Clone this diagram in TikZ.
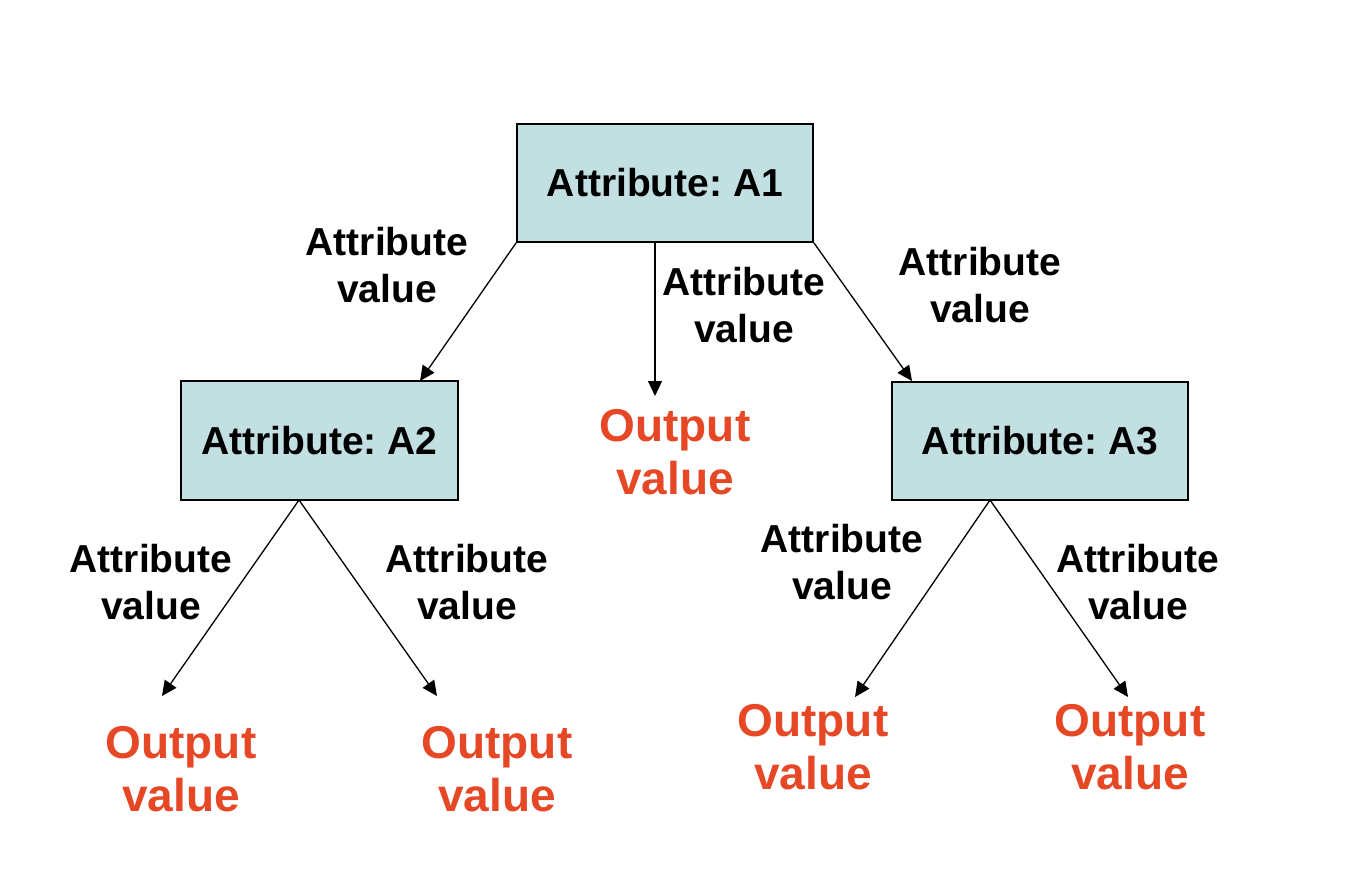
\documentclass[tikz,border=0pt]{standalone}
\usepackage{fontspec}
\setmainfont{Liberation Sans}
\frenchspacing
\usetikzlibrary{arrows.meta}
\definecolor{boxfill}{RGB}{194,224,226}
\definecolor{outred}{RGB}{230,72,38}
\tikzset{
  attrbox/.style={draw=black, line width=2pt, fill=boxfill, minimum width=296pt, minimum height=118pt, inner sep=0pt, font=\fontsize{39}{47}\selectfont\bfseries},
  lbl/.style={align=center, inner sep=0pt, font=\fontsize{39}{47}\selectfont\bfseries},
  outv/.style={align=center, inner sep=0pt, text=outred, font=\fontsize{46}{53}\selectfont\bfseries},
  conn/.style={line width=1.3pt, -{Triangle[length=15pt,width=14pt]}}
}
\begin{document}
\begin{tikzpicture}[x=1pt,y=-1pt]
\useasboundingbox (0,0) rectangle (1356,880);
\node[attrbox] (A1) at (665,183) {Attribute: A1};
\node[attrbox, minimum width=277pt, minimum height=119pt] (A2) at (319.5,440.5) {Attribute: A2};
\node[attrbox] (A3) at (1040,440.5) {Attribute: A3};

\node[outv] (O0) at (675,452) {Output\\value};
\node[outv] (O1) at (181,769) {Output\\value};
\node[outv] (O2) at (497,769) {Output\\value};
\node[outv] (O3) at (813,747) {Output\\value};
\node[outv] (O4) at (1130,747) {Output\\value};

\node[lbl] (L1) at (387,265) {Attribute\\value};
\node[lbl] (L2) at (744,305) {Attribute\\value};
\node[lbl] (L3) at (980,285) {Attribute\\value};
\node[lbl] (L4) at (151,582) {Attribute\\value};
\node[lbl] (L5) at (467,582) {Attribute\\value};
\node[lbl] (L6) at (842,562) {Attribute\\value};
\node[lbl] (L7) at (1138,582) {Attribute\\value};

\coordinate (s0) at (655,242);
\coordinate (e1) at (420,381);
\coordinate (e0) at (655,396);
\coordinate (e3) at (912,381);
\coordinate (s2) at (299,500);
\coordinate (s3) at (990,500);
\coordinate (e4) at (162,696);
\coordinate (e5) at (437,696);
\coordinate (e6) at (855,697);
\coordinate (e7) at (1128,697);

\draw[conn] (A1.south west) -- (e1);
\draw[conn] (s0) -- (e0);
\draw[conn] (A1.south east) -- (e3);
\draw[conn] (s2) -- (e4);
\draw[conn] (s2) -- (e5);
\draw[conn] (s3) -- (e6);
\draw[conn] (s3) -- (e7);
\end{tikzpicture}
\end{document}
